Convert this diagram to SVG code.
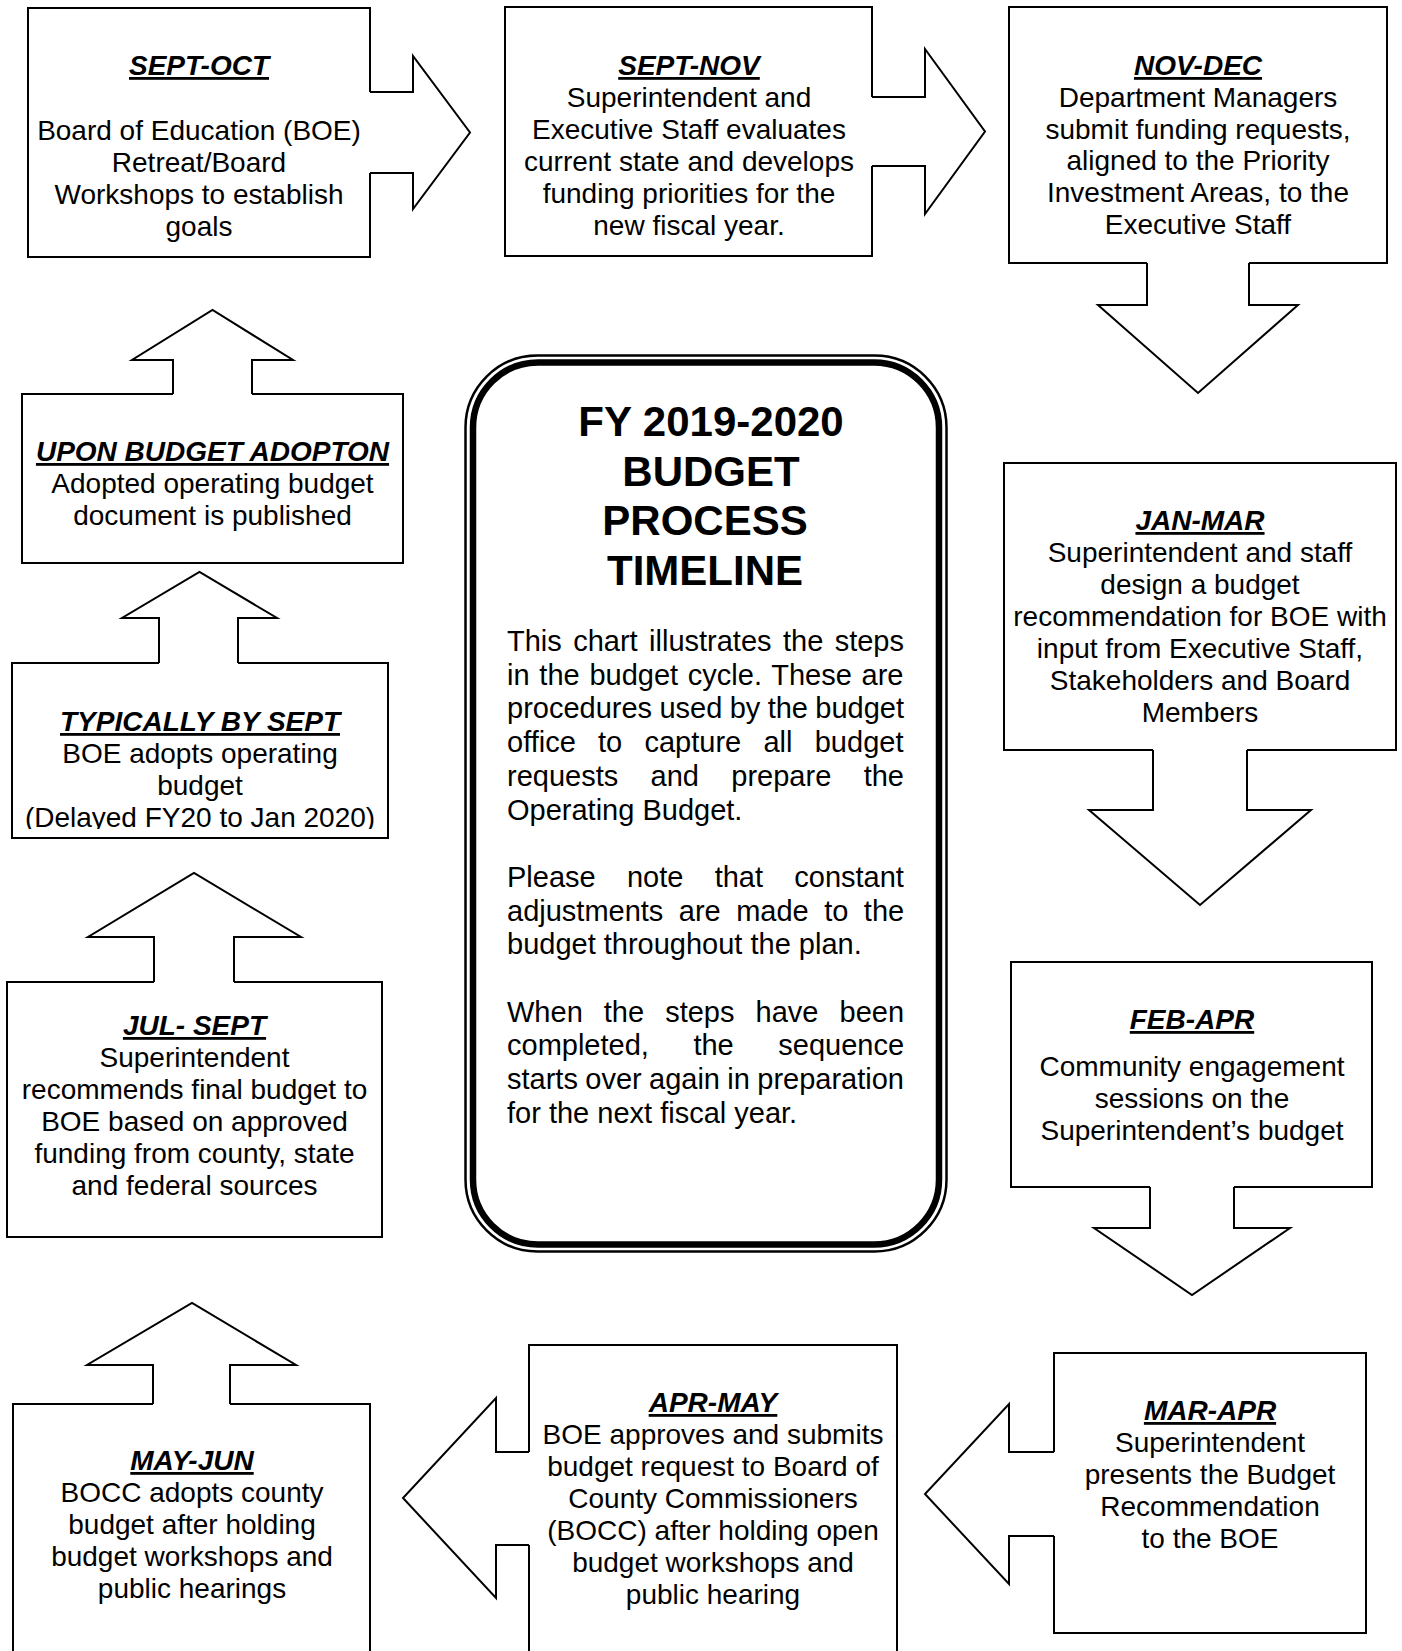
<svg xmlns="http://www.w3.org/2000/svg" width="1402" height="1651" viewBox="0 0 1402 1651">
<defs>
<style>
.box{fill:none;stroke:#000;stroke-width:2;stroke-linejoin:miter}
.arr{fill:none;stroke:#000;stroke-width:2;stroke-linejoin:miter}
.t{font-family:"Liberation Sans",Arial,sans-serif;font-size:28px;text-anchor:middle;fill:#000}
.h{font-weight:bold;font-style:italic;text-decoration:underline}
.ct{font-family:"Liberation Sans",Arial,sans-serif;font-size:42px;font-weight:bold;text-anchor:middle;fill:#000}
.cb{font-family:"Liberation Sans",Arial,sans-serif;font-size:29px;fill:#000}
</style>
<clipPath id="clipTyp"><rect x="0" y="600" width="400" height="229"/></clipPath>
</defs>
<rect x="0" y="0" width="1402" height="1651" fill="#fff"/>

<g id="connectors">
<path class="arr" d="M370,92 H413 V56 L470,132.5 L413,209 V173 H370"/>
<path class="arr" d="M872,97 H925 V49 L985,131.5 L925,214 V166 H872"/>
<path class="arr" d="M1147,263 V305 H1098 L1198,393 L1298,305 H1249 V263"/>
<path class="arr" d="M1153,750 V810 H1089 L1200,905 L1311,810 H1247 V750"/>
<path class="arr" d="M1150,1187 V1228 H1094 L1192,1295 L1290,1228 H1234 V1187"/>
<path class="arr" d="M1054,1452 H1009 V1404 L925,1494 L1009,1584 V1536 H1054"/>
<path class="arr" d="M529,1452 H496 V1398 L403,1498 L496,1598 V1545 H529"/>
<path class="arr" d="M153,1404 V1365 H87 L192,1303 L296,1365 H230 V1404"/>
<path class="arr" d="M154,982 V937 H88 L194,873 L301,937 H234 V982"/>
<path class="arr" d="M159,663 V618 H122 L199.5,572 L277,618 H238 V663"/>
<path class="arr" d="M173,394 V360 H132 L212.5,310 L293,360 H252 V394"/>
</g>

<g id="sept-oct">
<path class="box" d="M370,92 V8 H28 V257 H370 V173"/>
<text class="t h" x="199" y="75">SEPT-OCT</text>
<text class="t" x="199" y="139.5">Board of Education (BOE)</text>
<text class="t" x="199" y="171.5">Retreat/Board</text>
<text class="t" x="199" y="203.5">Workshops to establish</text>
<text class="t" x="199" y="235.5">goals</text>
</g>

<g id="sept-nov">
<path class="box" d="M872,97 V7 H505 V256 H872 V166"/>
<text class="t h" x="689" y="75">SEPT-NOV</text>
<text class="t" x="689" y="107">Superintendent and</text>
<text class="t" x="689" y="139">Executive Staff evaluates</text>
<text class="t" x="689" y="171">current state and develops</text>
<text class="t" x="689" y="203">funding priorities for the</text>
<text class="t" x="689" y="235">new fiscal year.</text>
</g>

<g id="nov-dec">
<path class="box" d="M1147,263 H1009 V7 H1387 V263 H1249"/>
<text class="t h" x="1198" y="75">NOV-DEC</text>
<text class="t" x="1198" y="107">Department Managers</text>
<text class="t" x="1198" y="139">submit funding requests,</text>
<text class="t" x="1198" y="170">aligned to the Priority</text>
<text class="t" x="1198" y="202">Investment Areas, to the</text>
<text class="t" x="1198" y="234">Executive Staff</text>
</g>

<g id="jan-mar">
<path class="box" d="M1153,750 H1004 V463 H1396 V750 H1247"/>
<text class="t h" x="1200" y="530">JAN-MAR</text>
<text class="t" x="1200" y="562">Superintendent and staff</text>
<text class="t" x="1200" y="594">design a budget</text>
<text class="t" x="1200" y="626">recommendation for BOE with</text>
<text class="t" x="1200" y="658">input from Executive Staff,</text>
<text class="t" x="1200" y="690">Stakeholders and Board</text>
<text class="t" x="1200" y="722">Members</text>
</g>

<g id="feb-apr">
<path class="box" d="M1150,1187 H1011 V962 H1372 V1187 H1234"/>
<text class="t h" x="1192" y="1029">FEB-APR</text>
<text class="t" x="1192" y="1076">Community engagement</text>
<text class="t" x="1192" y="1108">sessions on the</text>
<text class="t" x="1192" y="1140">Superintendent’s budget</text>
</g>

<g id="mar-apr">
<path class="box" d="M1054,1452 V1353 H1366 V1633 H1054 V1536"/>
<text class="t h" x="1210" y="1420">MAR-APR</text>
<text class="t" x="1210" y="1452">Superintendent</text>
<text class="t" x="1210" y="1484">presents the Budget</text>
<text class="t" x="1210" y="1516">Recommendation</text>
<text class="t" x="1210" y="1548">to the BOE</text>
</g>

<g id="apr-may">
<path class="box" d="M529,1452 V1345 H897 V1660 M529,1545 V1660"/>
<text class="t h" x="713" y="1412">APR-MAY</text>
<text class="t" x="713" y="1444">BOE approves and submits</text>
<text class="t" x="713" y="1476">budget request to Board of</text>
<text class="t" x="713" y="1508">County Commissioners</text>
<text class="t" x="713" y="1540">(BOCC) after holding open</text>
<text class="t" x="713" y="1572">budget workshops and</text>
<text class="t" x="713" y="1604">public hearing</text>
</g>

<g id="may-jun">
<path class="box" d="M153,1404 H13 V1660 M370,1660 V1404 H230"/>
<text class="t h" x="192" y="1470">MAY-JUN</text>
<text class="t" x="192" y="1502">BOCC adopts county</text>
<text class="t" x="192" y="1534">budget after holding</text>
<text class="t" x="192" y="1566">budget workshops and</text>
<text class="t" x="192" y="1598">public hearings</text>
</g>

<g id="jul-sept">
<path class="box" d="M154,982 H7 V1237 H382 V982 H234"/>
<text class="t h" x="194.5" y="1035">JUL- SEPT</text>
<text class="t" x="194.5" y="1067">Superintendent</text>
<text class="t" x="194.5" y="1099">recommends final budget to</text>
<text class="t" x="194.5" y="1131">BOE based on approved</text>
<text class="t" x="194.5" y="1163">funding from county, state</text>
<text class="t" x="194.5" y="1195">and federal sources</text>
</g>

<g id="typically-by-sept">
<path class="box" d="M159,663 H12 V838 H388 V663 H238"/>
<text class="t h" x="200" y="731">TYPICALLY BY SEPT</text>
<text class="t" x="200" y="763">BOE adopts operating</text>
<text class="t" x="200" y="795">budget</text>
<text class="t" x="200" y="827" clip-path="url(#clipTyp)">(Delayed FY20 to Jan 2020)</text>
</g>

<g id="upon-budget-adoption">
<path class="box" d="M173,394 H22 V563 H403 V394 H252"/>
<text class="t h" x="212.5" y="461">UPON BUDGET ADOPTON</text>
<text class="t" x="212.5" y="493">Adopted operating budget</text>
<text class="t" x="212.5" y="525">document is published</text>
</g>

<g id="center-title">
<rect x="465.5" y="355.5" width="481" height="896" rx="72" ry="72" fill="none" stroke="#000" stroke-width="2.5"/>
<rect x="473" y="362.5" width="466" height="882" rx="65" ry="65" fill="none" stroke="#000" stroke-width="6.5"/>
<text class="ct" x="711" y="436">FY 2019-2020</text>
<text class="ct" x="711" y="485.5">BUDGET</text>
<text class="ct" x="705" y="535">PROCESS</text>
<text class="ct" x="705" y="584.5">TIMELINE</text>
<text class="cb" x="507" y="651" word-spacing="3.35">This chart illustrates the steps</text>
<text class="cb" x="507" y="684.7" word-spacing="1.7">in the budget cycle. These are</text>
<text class="cb" x="507" y="718.4" word-spacing="-0.7">procedures used by the budget</text>
<text class="cb" x="507" y="752.1" word-spacing="14.2">office to capture all budget</text>
<text class="cb" x="507" y="785.8" word-spacing="24.3">requests and prepare the</text>
<text class="cb" x="507" y="819.5">Operating Budget.</text>
<text class="cb" x="507" y="886.9" word-spacing="23.2">Please note that constant</text>
<text class="cb" x="507" y="920.6" word-spacing="7.4">adjustments are made to the</text>
<text class="cb" x="507" y="954.3">budget throughout the plan.</text>
<text class="cb" x="507" y="1021.7" word-spacing="13">When the steps have been</text>
<text class="cb" x="507" y="1055.4" word-spacing="36.5">completed, the sequence</text>
<text class="cb" x="507" y="1089.1" word-spacing="-0.7">starts over again in preparation</text>
<text class="cb" x="507" y="1122.8">for the next fiscal year.</text>
</g>
</svg>
